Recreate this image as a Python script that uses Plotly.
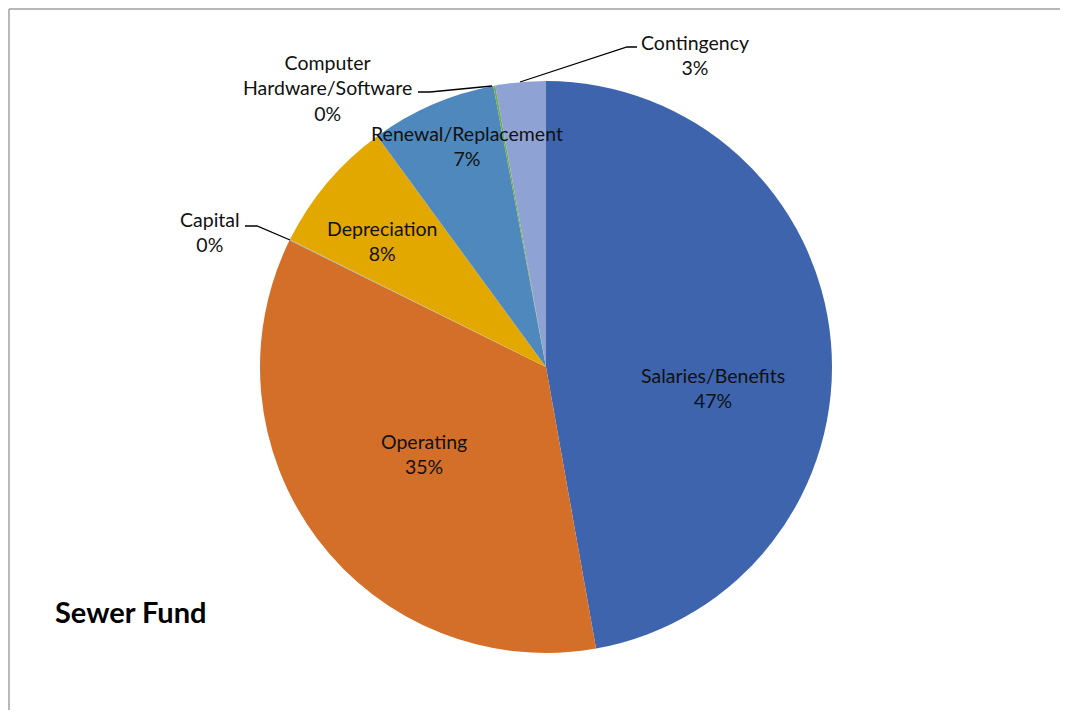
import plotly.graph_objects as go

# ---- data ----
categories = ["Salaries/Benefits", "Operating", "Capital", "Depreciation",
              "Renewal/Replacement", "Computer Hardware/Software", "Contingency"]
shares = [47.2, 35.1, 0.05, 7.6, 7.1, 0.11, 2.84]
colors = ["#3D64AD", "#D46F2A", "#A5A5A5", "#E3A800", "#4F88BD", "#70AD47", "#8FA2D4"]
chart_title = "Sewer Fund"

# page has an 8px body margin; figure sized so it fits without scrollbars
OFF = 8
W, H = 1060, 709

def px(x):
    return (x - OFF) / W

def py(y):
    return 1 - (y - OFF) / H

total = sum(shares)
pct_text = [f"{round(v / total * 100):.0f}%" for v in shares]
disp = [c.replace("Computer ", "Computer<br>") for c in categories]

fig = go.Figure(go.Pie(
    labels=categories,
    values=shares,
    sort=False,
    direction="clockwise",
    rotation=0,
    marker=dict(colors=colors, line=dict(width=0)),
    textinfo="none",
    hoverinfo="label+percent",
    showlegend=False,
    domain=dict(x=[px(260), px(832)], y=[py(653), py(81)]),
))

# label placement (pixel centres of label blocks, page coordinates)
label_pos = {
    "Salaries/Benefits": (713, 388),
    "Operating": (424, 454),
    "Depreciation": (382, 241),
    "Renewal/Replacement": (467, 146),
    "Contingency": (695, 55),
    "Computer Hardware/Software": (327, 88),
    "Capital": (210, 232),
}
font = dict(family="Lato, 'Open Sans', sans-serif", size=19.5, color="#111111")
for cat, d, p in zip(categories, disp, pct_text):
    x, y = label_pos[cat]
    fig.add_annotation(x=px(x), y=py(y), xref="paper", yref="paper",
                       text=f"{d}<br>{p}", showarrow=False, font=font,
                       xanchor="center", yanchor="middle", align="center")

# leader lines
leaders = [
    [(637, 47), (627, 47), (520, 82)],
    [(418, 92), (430, 92), (492, 86)],
    [(245, 226), (257, 226), (290, 240)],
]
for pts in leaders:
    path = "M " + " L ".join(f"{px(a):.5f},{py(b):.5f}" for a, b in pts)
    fig.add_shape(type="path", path=path, xref="paper", yref="paper",
                  line=dict(color="#000000", width=1.3))

# title inside chart
fig.add_annotation(x=px(130), y=py(611), xref="paper", yref="paper",
                   text=f"<b>{chart_title}</b>", showarrow=False,
                   font=dict(family="Lato, 'Open Sans', sans-serif", size=29, color="#000000"),
                   xanchor="center", yanchor="middle")

# chart frame: top and left edges only, short of the far edges
fig.add_shape(type="line", xref="paper", yref="paper",
              x0=px(9), x1=px(1060), y0=py(9), y1=py(9),
              line=dict(color="#A0A0A0", width=1.5))
fig.add_shape(type="line", xref="paper", yref="paper",
              x0=px(9), x1=px(9), y0=py(9), y1=py(710),
              line=dict(color="#A0A0A0", width=1.5))

fig.update_layout(
    width=W, height=H,
    margin=dict(l=0, r=0, t=0, b=0),
    paper_bgcolor="white",
    plot_bgcolor="white",
)

fig.write_html("out.html")
